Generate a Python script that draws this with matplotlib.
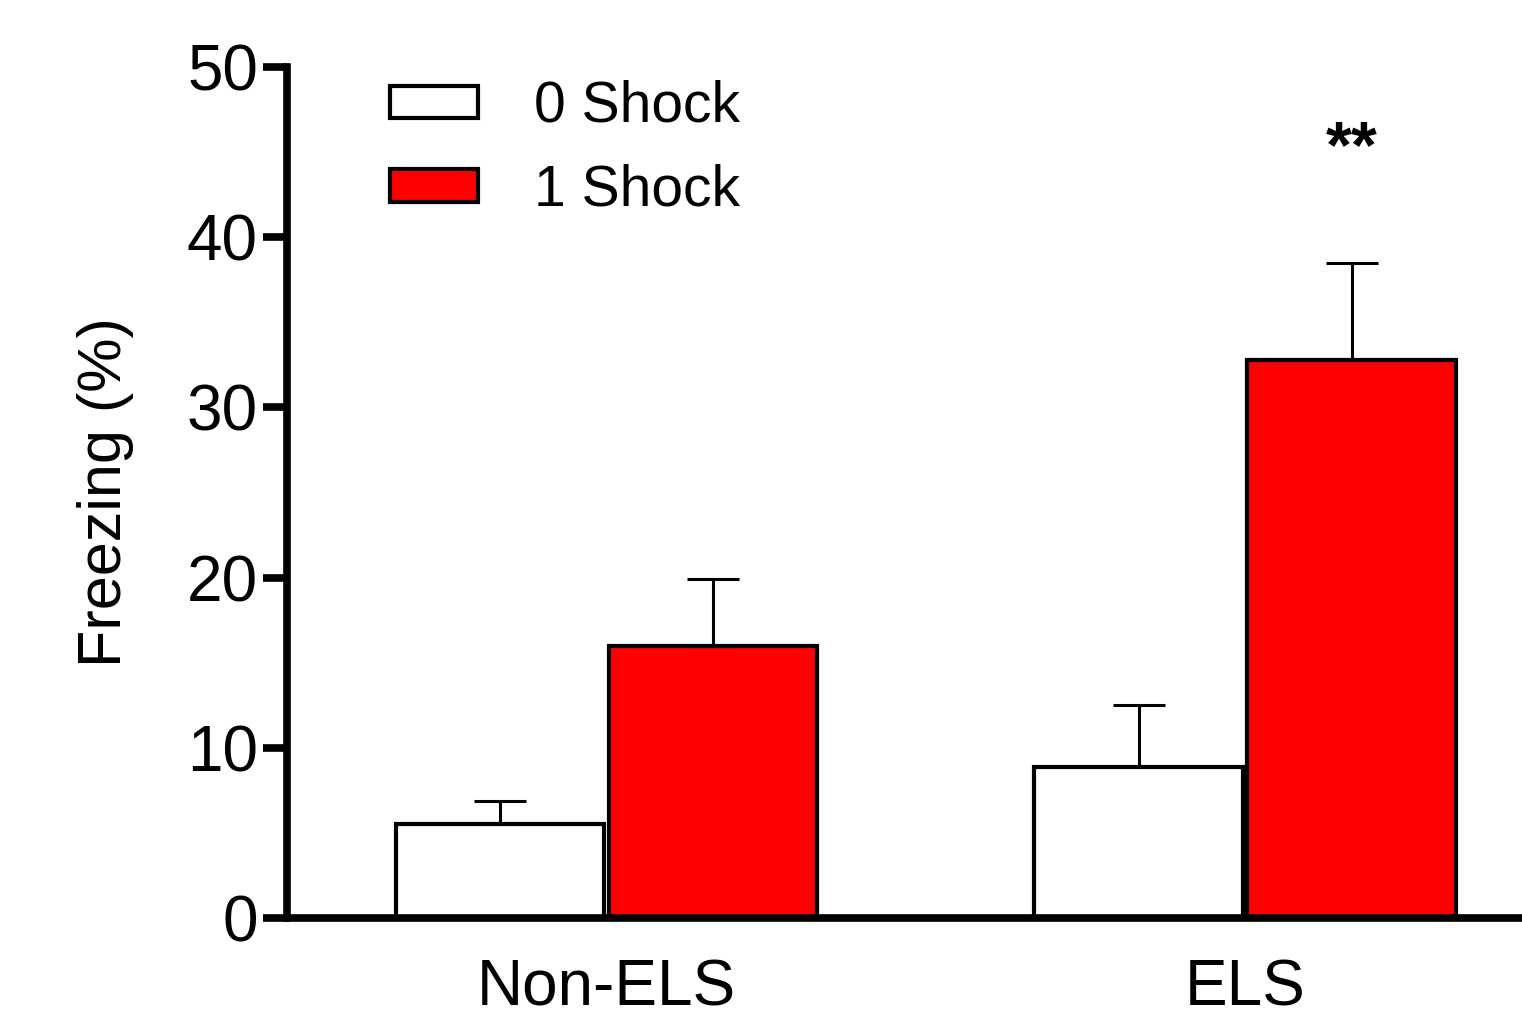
import numpy as np
import matplotlib
matplotlib.use('Agg')
import matplotlib.pyplot as plt

plt.rcParams['font.family'] = ['Liberation Sans', 'DejaVu Sans']

# 数据
groups = ['Non-ELS', 'ELS']
series = ['0 Shock', '1 Shock']
mean_0 = [5.5, 8.9]
sem_0 = [1.4, 3.6]
mean_1 = [16.0, 32.8]
sem_1 = [3.9, 5.7]
sig_label = '**'
sig_y = 45.1

fig = plt.figure(figsize=(15.22, 10.17), dpi=100)
ax = fig.add_axes([0.1886, 0.0973, 0.8114, 0.8368])

x = np.array([1.0, 4.0])
w = 0.98
lw_edge = 3.0

ax.bar(x - 0.5, mean_0, w, color='white', edgecolor='black', linewidth=lw_edge,
       yerr=[np.zeros(2), sem_0], capsize=19,
       error_kw=dict(elinewidth=2.2, capthick=2.2, ecolor='black'), label=series[0], zorder=2)
ax.bar(x + 0.5, mean_1, w, color='#ff0000', edgecolor='black', linewidth=lw_edge,
       yerr=[np.zeros(2), sem_1], capsize=19,
       error_kw=dict(elinewidth=2.2, capthick=2.2, ecolor='black'), label=series[1], zorder=2)

# 显著性标记
ax.text(x[1] + 0.5, sig_y, sig_label, ha='center', va='center', fontsize=48, fontweight='bold')

ax.set_xlim(-0.5, 5.3)
ax.set_ylim(0, 50)
ax.set_yticks([0, 10, 20, 30, 40, 50])
ax.set_xticks(x)
ax.set_xticklabels(groups, fontsize=46)
ax.tick_params(axis='x', length=0, pad=29)
ax.tick_params(axis='y', length=17, width=5.5, labelsize=46, pad=4)
ax.set_ylabel('Freezing (%)', fontsize=44, labelpad=38)

for s in ['top', 'right']:
    ax.spines[s].set_visible(False)
for s in ['left', 'bottom']:
    ax.spines[s].set_linewidth(5.5)

ax.legend(loc='upper left', bbox_to_anchor=(390 / 1522, 1 - 80 / 1017), bbox_transform=fig.transFigure,
          frameon=False, fontsize=41, handlelength=1.55, handleheight=0.5, handletextpad=0.98,
          labelspacing=0.52, borderpad=0, borderaxespad=0)

fig.savefig('out.png', dpi=100)
